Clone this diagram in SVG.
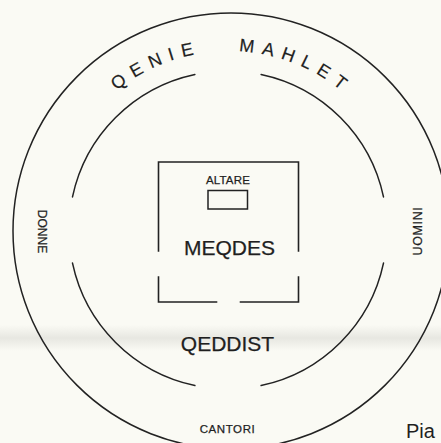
<svg xmlns="http://www.w3.org/2000/svg" width="441" height="443" viewBox="0 0 441 443">
  <defs>
    <style>
      .ln { fill: none; stroke: #222; stroke-width: 1.5; stroke-linecap: round; }
      .wall { fill: none; stroke: #222; stroke-width: 1.6; stroke-linecap: square; }
      .t { font-family: "Liberation Sans", Arial, sans-serif; fill: #1f1f1f; text-anchor: middle; stroke: #1f1f1f; stroke-width: 0.25; }
      .arcT { font-family: "Liberation Sans", Arial, sans-serif; fill: #1f1f1f; font-size: 18px; letter-spacing: 7.6px; stroke: #1f1f1f; stroke-width: 0.2; }
    </style>
    <linearGradient id="band" x1="0" y1="0" x2="0" y2="1">
      <stop offset="0" stop-color="#d8d8d2" stop-opacity="0"/>
      <stop offset="0.5" stop-color="#d8d8d2" stop-opacity="0.55"/>
      <stop offset="1" stop-color="#d8d8d2" stop-opacity="0"/>
    </linearGradient>
    <path id="textArc" d="M50,230 A179,179 0 0 1 408,230"/>
  </defs>

  <rect width="441" height="443" fill="#fafaf4"/>
  <rect x="0" y="325" width="441" height="26" fill="url(#band)"/>

  <g id="outer-ring">
    <circle class="ln" cx="231" cy="231" r="218"/>
  </g>

  <g id="inner-ring">
    <path class="ln" d="M383.5,263.1 A159,159 0 0 1 261.1,385.5"/>
    <path class="ln" d="M194.9,385.5 A159,159 0 0 1 72.5,263.1"/>
    <path class="ln" d="M72.5,196.9 A159,159 0 0 1 194.9,74.5"/>
    <path class="ln" d="M261.1,74.5 A159,159 0 0 1 383.5,196.9"/>
  </g>

  <g id="meqdes">
    <path class="wall" d="M158.5,251 V162 H298.5 V251"/>
    <path class="wall" d="M158.5,277 V302 H216.5"/>
    <path class="wall" d="M240.5,302 H298.5 V277"/>
    <text class="t" x="229.5" y="254.5" font-size="21">MEQDES</text>
  </g>

  <g id="altare">
    <text class="t" x="228" y="184" font-size="11.5" letter-spacing="0.2">ALTARE</text>
    <rect x="208" y="190.5" width="39.5" height="18.5" fill="none" stroke="#222" stroke-width="1.5"/>
  </g>

  <g id="labels">
    <text class="arcT"><textPath href="#textArc" startOffset="159.5">QENIE</textPath></text>
    <text class="arcT"><textPath href="#textArc" startOffset="290.8">MAHLET</textPath></text>
    <text class="t" font-size="12" transform="translate(38,231.5) rotate(90)">DONNE</text>
    <text class="t" font-size="12.5" letter-spacing="0.6" transform="translate(421.5,231) rotate(-90)">UOMINI</text>
    <text class="t" x="227.5" y="351" font-size="21">QEDDIST</text>
    <text class="t" x="227.5" y="433" font-size="11.5" letter-spacing="0.6">CANTORI</text>
    <text font-family="Liberation Sans, Arial, sans-serif" fill="#1f1f1f" x="406" y="438" font-size="20">Pia</text>
  </g>
</svg>
